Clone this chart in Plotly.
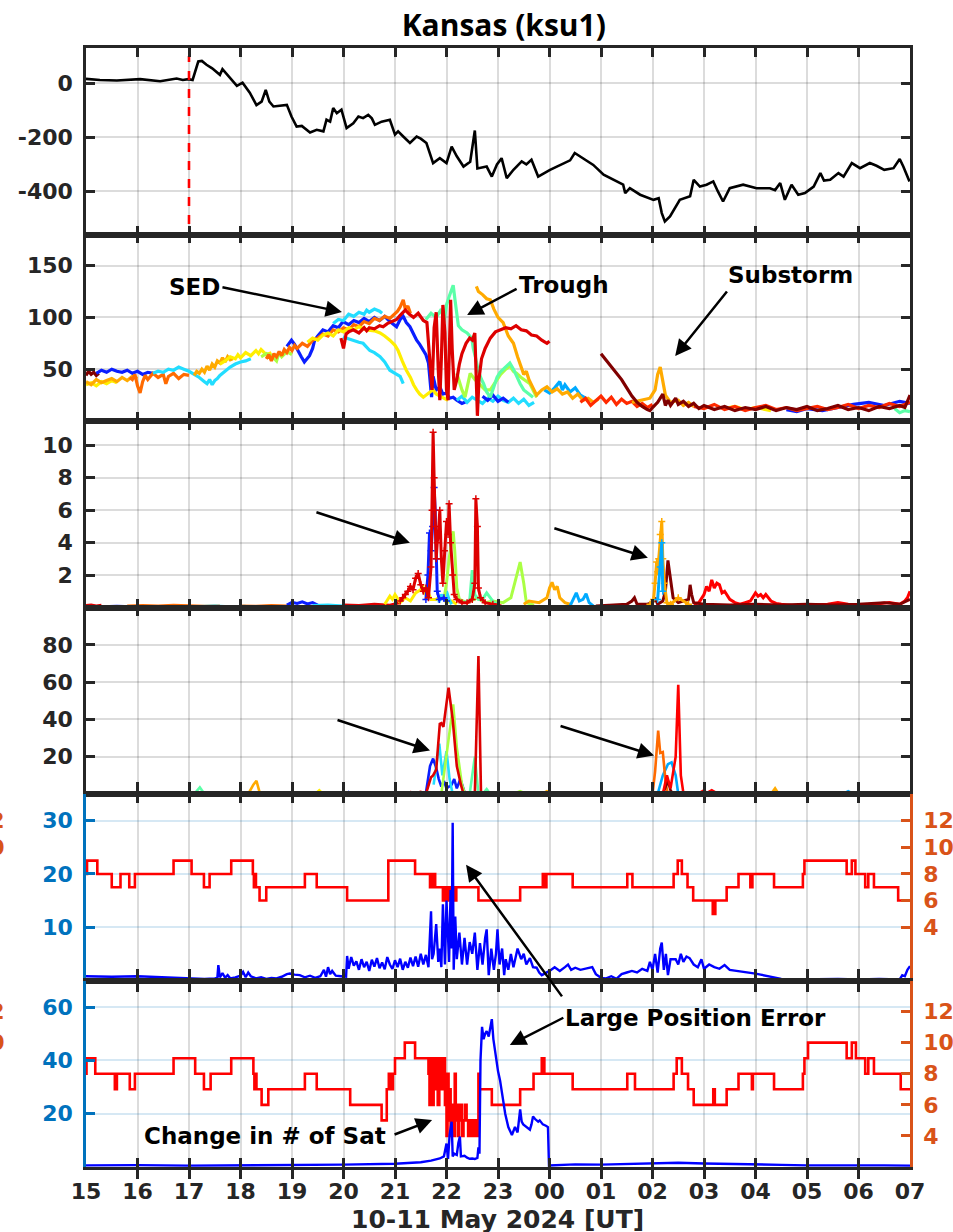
import plotly.graph_objects as go

# ---------------- shared time axis (UT hours counted from 10 May 00 UT) ----------------
hour_ticks = list(range(15, 32))
hour_labels = ["15", "16", "17", "18", "19", "20", "21", "22", "23",
               "00", "01", "02", "03", "04", "05", "06", "07"]

# ---------------- panel 1 : SYM-H ----------------
symh_ticks = [-400, -200, 0]
symh_tick_labels = ["-400", "-200", "0"]
onset_t = [17.0, 17.0]
onset_v = [-520, 100]
symh_t = [15.00, 15.27, 15.60, 16.05, 16.44, 16.76, 16.88, 16.99, 17.07, 17.12,
          17.18, 17.25, 17.34, 17.45, 17.60, 17.65, 17.80, 17.93, 18.04, 18.18,
          18.31, 18.41, 18.49, 18.56, 18.64, 18.80, 18.90, 18.99, 19.09, 19.19,
          19.35, 19.48, 19.61, 19.67, 19.74, 19.80, 19.87, 19.96, 20.06, 20.19,
          20.29, 20.38, 20.48, 20.55, 20.61, 20.74, 20.90, 21.00, 21.06, 21.16,
          21.29, 21.42, 21.50, 21.61, 21.74, 21.87, 22.00, 22.10, 22.20, 22.33,
          22.46, 22.55, 22.60, 22.78, 22.88, 22.98, 23.07, 23.17, 23.30, 23.46,
          23.55, 23.65, 23.78, 24.01, 24.27, 24.40, 24.49, 24.59, 24.85, 25.05,
          25.24, 25.43, 25.47, 25.56, 25.76, 26.02, 26.12, 26.18, 26.24, 26.34,
          26.53, 26.73, 26.80, 26.92, 27.05, 27.18, 27.27, 27.37, 27.50, 27.76,
          28.02, 28.28, 28.38, 28.48, 28.57, 28.70, 28.83, 28.96, 29.13, 29.26,
          29.33, 29.45, 29.61, 29.71, 29.87, 30.03, 30.22, 30.35, 30.50, 30.68,
          30.80, 30.87, 30.99]
symh_v = [16, 12, 10, 15, 7, 17, 12, 15, 12, 43,
          80, 82, 68, 55, 31, 52, 18, -10, 2, -35,
          -81, -68, -25, -68, -86, -82, -80, -123, -160, -158,
          -182, -172, -178, -135, -142, -92, -111, -98, -166, -148,
          -123, -129, -117, -130, -154, -142, -135, -190, -178, -197,
          -221, -197, -205, -221, -295, -277, -295, -234, -270, -308,
          -290, -175, -315, -308, -345, -300, -277, -351, -320, -289,
          -300, -283, -345, -320, -295, -285, -258, -271, -302, -338,
          -357, -375, -406, -388, -412, -431, -425, -480, -511, -492,
          -431, -418, -357, -382, -375, -363, -400, -437, -388, -375,
          -388, -388, -395, -369, -431, -375, -412, -406, -382, -332,
          -360, -357, -332, -345, -295, -314, -295, -305, -320, -314,
          -280, -308, -363]

# ---------------- panel 2 : TEC per satellite ----------------
tec_yel1_t = [15.0, 15.1, 15.2, 15.3, 15.4, 15.5, 15.6]
tec_yel1_v = [35, 37, 34, 38, 36, 39, 37]
tec_org1_t = [15.0, 15.1, 15.2, 15.3, 15.4, 15.5, 15.6, 15.7, 15.8, 15.9, 16.0]
tec_org1_v = [38, 35, 40, 37, 39, 41, 38, 42, 39, 43, 41]
tec_dred1_t = [15.0, 15.05, 15.1, 15.15, 15.2, 15.25]
tec_dred1_v = [44, 48, 45, 47, 44, 46]
tec_blue1_t = [15.2, 15.3, 15.4, 15.5, 15.6, 15.7, 15.8, 15.9, 16.0, 16.1, 16.2, 16.3]
tec_blue1_v = [46, 49, 47, 50, 48, 47, 49, 46, 48, 45, 47, 46]
tec_dorg1_t = [15.85, 15.9, 15.95, 16.0, 16.05, 16.1, 16.15, 16.2, 16.3, 16.4, 16.5, 16.55,
               16.6, 16.7, 16.8, 16.9, 17.0]
tec_dorg1_v = [42, 40, 45, 34, 27, 38, 44, 40, 46, 42, 45, 36, 43, 46, 41, 45, 44]
tec_cyan1_t = [16.3, 16.4, 16.5, 16.6, 16.7, 16.8, 16.9, 17.0, 17.1, 17.2, 17.3, 17.35, 17.4,
               17.45, 17.5, 17.55, 17.6, 17.7, 17.8, 17.9, 18.0, 18.1, 18.2]
tec_cyan1_v = [46, 48, 47, 50, 49, 52, 50, 48, 45, 42, 38, 36, 40, 35, 39, 41, 44, 48, 52, 55,
               57, 58, 60]
tec_org2_t = [17.1, 17.15, 17.2, 17.25, 17.3, 17.35, 17.4, 17.45, 17.5, 17.55, 17.6, 17.65,
              17.7, 17.75, 17.8, 17.85]
tec_org2_v = [44, 48, 46, 50, 47, 53, 49, 55, 52, 58, 56, 61, 57, 62, 59, 60]
tec_yel2_t = [17.6, 17.7, 17.8, 17.9, 17.95, 18.0, 18.1, 18.2, 18.3, 18.35, 18.4, 18.5, 18.6]
tec_yel2_v = [55, 58, 62, 60, 64, 61, 66, 63, 68, 65, 69, 64, 66]
tec_lime1_t = [18.4, 18.5, 18.6, 18.7, 18.75, 18.8, 18.9, 19.0]
tec_lime1_v = [62, 65, 63, 58, 66, 62, 67, 64]
tec_blue2_t = [18.9, 18.99, 19.05, 19.11, 19.18, 19.24, 19.3, 19.34, 19.4, 19.44,
               19.5, 19.6, 19.7, 19.8, 19.9, 19.99, 20.1, 20.2, 20.3, 20.4,
               20.5, 20.6, 20.7, 20.8, 20.9, 21.03, 21.1, 21.16, 21.22, 21.29,
               21.36, 21.42, 21.48, 21.55, 21.6, 21.65, 21.68, 21.71, 21.74, 21.8,
               21.87, 21.93, 22.0, 22.06, 22.13, 22.2, 22.3, 22.4]
tec_blue2_v = [72, 78, 74, 68, 62, 57, 60, 63, 70, 78,
               82, 88, 86, 92, 90, 96, 93, 97, 95, 99,
               96, 100, 97, 101, 96, 91, 98, 101, 95, 91,
               84, 78, 74, 68, 64, 56, 40, 23, 43, 30,
               33, 26, 27, 22, 23, 20, 17, 19]
tec_dorg2_t = [18.5, 18.55, 18.6, 18.65, 18.7, 18.75, 18.8, 18.85, 18.9, 18.95, 19.0, 19.05,
               19.1, 19.2, 19.3, 19.4, 19.5, 19.6, 19.7, 19.8, 19.9, 20.0, 20.1, 20.2, 20.3,
               20.4, 20.5, 20.6, 20.7, 20.8, 20.9, 21.0, 21.05, 21.1, 21.16, 21.2, 21.25, 21.3]
tec_dorg2_v = [60, 64, 58, 65, 62, 67, 63, 69, 66, 71, 68, 73, 70,
               75, 72, 78, 80, 84, 82, 88, 86, 90, 88, 93, 91, 96, 94, 99, 97, 101, 99, 104,
               106, 110, 117, 108, 111, 104]
tec_yel3_t = [19.3, 19.4, 19.5, 19.6, 19.7, 19.8, 19.9, 20.0, 20.1, 20.2, 20.3,
              20.45, 20.6, 20.71, 20.8, 20.9, 21.0, 21.06, 21.14, 21.22, 21.3,
              21.36, 21.42, 21.48, 21.55, 21.62, 21.68, 21.74, 21.8, 21.87, 21.94, 22.03]
tec_yel3_v = [76, 80, 78, 83, 85, 82, 88, 86, 90, 88, 91,
              88, 87, 85, 82, 78, 73, 68, 58, 49, 42,
              35, 30, 26, 23, 26, 28, 30, 26, 24, 22, 20]
tec_cyan2_t = [19.8, 19.9, 20.0, 20.1, 20.2, 20.3, 20.4, 20.45, 20.5, 20.6, 20.7, 20.75]
tec_cyan2_v = [94, 98, 97, 103, 101, 105, 103, 107, 105, 108, 106, 104]
tec_cyan3_t = [19.99, 20.1, 20.19, 20.3, 20.38, 20.45, 20.51, 20.6, 20.71, 20.8, 20.9, 21.0,
               21.1, 21.16]
tec_cyan3_v = [81, 79, 78, 76, 75, 71, 68, 66, 62, 57, 49, 46, 43, 36]
tec_cyan4_t = [22.2, 22.3, 22.4, 22.5, 22.6, 22.7, 22.8, 22.9, 23.0, 23.1, 23.2, 23.3, 23.4,
               23.5, 23.6, 23.7]
tec_cyan4_v = [20, 24, 18, 23, 20, 17, 22, 19, 24, 20, 18, 22, 17, 21, 15, 18]
tec_blue3_t = [22.7, 22.8, 22.9, 23.0, 23.1, 23.2]
tec_blue3_v = [24, 20, 25, 19, 22, 18]
tec_lime2_t = [22.2, 22.3, 22.36, 22.42, 22.46, 22.55, 22.65, 22.75, 22.85, 22.95,
               23.05, 23.15, 23.23, 23.3, 23.36, 23.45, 23.55, 23.62, 23.7, 23.75]
tec_lime2_v = [46, 30, 23, 35, 46, 40, 35, 30, 30, 38,
               45, 50, 53, 48, 46, 42, 38, 36, 28, 23]
tec_aqua1_t = [21.6, 21.7, 21.8, 21.9, 21.95, 22.0, 22.05, 22.1, 22.13, 22.17,
               22.23, 22.3, 22.4, 22.49, 22.52, 22.56, 22.62, 22.68, 22.72, 22.78,
               22.85, 22.92, 22.98, 23.04, 23.1, 23.17, 23.23, 23.3, 23.37, 23.43,
               23.5, 23.6, 23.68]
tec_aqua1_v = [98, 104, 100, 108, 95, 112, 120, 127, 131, 115,
               92, 88, 85, 80, 70, 62, 48, 40, 36, 28,
               23, 33, 42, 47, 50, 54, 56, 50, 42, 36,
               30, 26, 23]
tec_lblue1_t = [23.9, 24.0, 24.1, 24.2, 24.25, 24.3, 24.4, 24.5, 24.6, 24.7]
tec_lblue1_v = [30, 27, 32, 38, 30, 35, 28, 32, 25, 22]
tec_org3_t = [22.58, 22.62, 22.7, 22.78, 22.85, 22.92, 23.0, 23.1, 23.2, 23.3,
              23.38, 23.45, 23.5, 23.55, 23.6, 23.68, 23.75, 23.85, 23.95, 24.05,
              24.15, 24.25, 24.35, 24.45, 24.55, 24.65, 24.75, 24.85, 24.95]
tec_org3_v = [130, 125, 122, 118, 117, 108, 100, 95, 82, 75,
              62, 52, 45, 48, 40, 32, 25, 30, 33, 28,
              31, 26, 28, 22, 26, 20, 22, 18, 21]
tec_rorg_t = [24.6, 24.7, 24.8, 24.9, 25.0, 25.1, 25.2, 25.3, 25.4, 25.5, 25.6, 25.7, 25.8,
              25.9, 26.0]
tec_rorg_v = [18, 22, 15, 20, 24, 18, 23, 16, 21, 17, 19, 14, 17, 13, 16]
tec_red1_t = [19.95, 20.0, 20.05, 20.1, 20.19, 20.3, 20.4, 20.45, 20.5, 20.6,
              20.7, 20.77, 20.85, 20.95, 21.03, 21.1, 21.2, 21.28, 21.36, 21.45,
              21.55, 21.62, 21.68, 21.72, 21.76, 21.8, 21.84, 21.87, 21.9, 21.93,
              21.97, 22.0, 22.03, 22.06, 22.08, 22.11, 22.15, 22.2, 22.25, 22.3,
              22.38, 22.45, 22.5, 22.55, 22.58, 22.6, 22.63, 22.68, 22.75, 22.85,
              22.95, 23.05, 23.15, 23.25, 23.35, 23.45, 23.55, 23.65, 23.75, 23.85,
              23.95, 24.0]
tec_red1_v = [80, 70, 84, 86, 88, 85, 90, 87, 90, 89,
              92, 91, 94, 96, 98, 102, 107, 103, 100, 104,
              97, 95, 60, 30, 90, 105, 50, 20, 60, 112,
              85, 30, 20, 80, 117, 70, 30, 40, 55, 65,
              75, 80, 78, 85, 30, 5, 40, 60, 70, 80,
              86, 88, 90, 89, 92, 88, 87, 83, 82, 78,
              75, 77]
tec_blue4_t = [28.6, 28.8, 29.0, 29.3, 29.6, 29.9, 30.2, 30.5, 30.8, 31.0]
tec_blue4_v = [11, 9, 12, 10, 13, 16, 18, 15, 19, 17]
tec_yel4_t = [27.4, 27.6, 27.8, 28.0, 28.3]
tec_yel4_v = [12, 14, 11, 13, 10]
tec_red2_t = [26.8, 27.0, 27.2, 27.4, 27.6, 27.8, 28.0, 28.2, 28.4, 28.6, 28.8, 29.0, 29.2,
              29.4, 29.6, 29.8, 30.0, 30.2, 30.4, 30.6, 30.8, 31.0]
tec_red2_v = [14, 12, 16, 11, 14, 10, 13, 15, 11, 13, 10, 12, 14, 11, 13, 16, 12, 15, 13, 17,
              14, 18]
tec_lime3_t = [30.7, 30.8, 30.9, 31.0]
tec_lime3_v = [12, 8, 10, 9]
tec_org4_t = [25.6, 25.8, 25.95, 26.05, 26.1, 26.15, 26.2, 26.25, 26.35, 26.5, 26.6, 26.7, 26.8]
tec_org4_v = [18, 20, 22, 30, 45, 52, 40, 25, 18, 20, 15, 18, 14]
tec_dred2_t = [25.0, 25.05, 25.1, 25.2, 25.3, 25.4, 25.5, 25.6, 25.7, 25.8,
               25.9, 25.95, 26.0, 26.1, 26.2, 26.25, 26.3, 26.35, 26.45, 26.5,
               26.6, 26.7, 26.8, 26.9, 27.0, 27.2, 27.4, 27.6, 27.8, 28.0,
               28.2, 28.4, 28.6, 28.8, 29.0, 29.2, 29.4, 29.6, 29.8, 30.0,
               30.2, 30.4, 30.6, 30.8, 30.9, 31.0]
tec_dred2_v = [65, 62, 58, 52, 47, 40, 32, 24, 18, 14,
               11, 10, 13, 18, 26, 15, 20, 15, 22, 16,
               19, 14, 17, 12, 15, 11, 14, 10, 13, 11,
               14, 10, 13, 11, 14, 10, 12, 15, 11, 13,
               10, 14, 12, 15, 13, 25]

# ---------------- panel 3 : ROTI per satellite ----------------
rot_red1_t = [15.0, 15.1, 15.2, 15.3]
rot_red1_v = [0.12, 0.16, 0.10, 0.14]
rot_blue1_t = [15.3, 15.6, 15.9, 16.2]
rot_blue1_v = [0.05, 0.08, 0.04, 0.06]
rot_org1_t = [15.8, 16.1, 16.4, 16.7, 17.0, 17.3, 17.6]
rot_org1_v = [0.10, 0.13, 0.09, 0.14, 0.11, 0.08, 0.10]
rot_cyan1_t = [17.2, 17.5, 17.8, 18.1]
rot_cyan1_v = [0.06, 0.09, 0.05, 0.07]
rot_org2_t = [18.0, 18.3, 18.6, 18.9]
rot_org2_v = [0.10, 0.08, 0.12, 0.10]
rot_blue2_t = [18.9, 19.0, 19.1, 19.2, 19.3, 19.4, 19.5]
rot_blue2_v = [0.15, 0.32, 0.25, 0.35, 0.22, 0.30, 0.15]
rot_cyan2_t = [19.4, 19.7, 20.0]
rot_cyan2_v = [0.12, 0.15, 0.10]
rot_red2_t = [20.0, 20.3, 20.6, 20.9, 21.1]
rot_red2_v = [0.15, 0.12, 0.20, 0.14, 0.30]
rot_yel_t = [20.8, 20.9, 20.95, 21.0, 21.1, 21.2, 21.3, 21.4, 21.5, 21.53, 21.6, 21.65, 21.7,
             21.8, 21.9, 22.0, 22.1, 22.2]
rot_yel_v = [0.2, 0.7, 0.5, 0.8, 0.3, 0.6, 0.4, 0.9, 1.1, 1.4, 0.8, 0.9, 0.5, 0.5, 0.7, 0.3,
             0.4, 0.2]
rot_cyan3_t = [21.85, 21.9, 21.95, 22.0, 22.05, 22.1]
rot_cyan3_v = [0.3, 0.8, 0.5, 1.0, 0.5, 0.2]
rot_lime_t = [21.95, 22.0, 22.05, 22.1, 22.13, 22.16, 22.2, 22.25, 22.4, 22.6, 22.75, 22.9,
              23.1, 23.25, 23.35, 23.43, 23.5, 23.55, 23.7]
rot_lime_v = [0.5, 1.5, 3.0, 4.3, 4.7, 3.5, 1.2, 0.5, 0.3, 0.6, 0.3, 0.4, 0.3, 0.6, 1.8, 2.8,
              1.5, 0.3, 0.15]
rot_aqua_t = [22.3, 22.45, 22.5, 22.55, 22.62, 22.7, 22.78, 22.85, 22.92, 23.0]
rot_aqua_v = [0.3, 0.4, 2.3, 0.8, 0.5, 0.5, 0.9, 0.6, 0.3, 0.2]
rot_blue3_t = [21.6, 21.64, 21.67, 21.7, 21.73, 21.76, 21.78, 21.8, 21.82, 21.86, 21.95, 22.0]
rot_blue3_v = [0.5, 2.0, 4.6, 3.5, 5.0, 7.4, 6.0, 3.0, 1.0, 0.5, 0.6, 0.4]
rot_red3_t = [21.1, 21.15, 21.2, 21.25, 21.3, 21.35, 21.4, 21.45, 21.5, 21.55,
              21.6, 21.65, 21.7, 21.72, 21.74, 21.76, 21.78, 21.8, 21.82, 21.84,
              21.87, 21.9, 21.93, 21.96, 22.0, 22.03, 22.05, 22.08, 22.12, 22.15,
              22.2, 22.3, 22.4, 22.5, 22.55, 22.57, 22.6, 22.62, 22.66, 22.75,
              22.9, 23.0]
rot_red3_v = [0.4, 0.6, 0.8, 1.0, 1.3, 1.1, 1.8, 2.1, 1.4, 1.0,
              1.2, 0.6, 2.5, 6.0, 10.8, 8.0, 5.0, 3.0, 4.0, 4.5,
              6.0, 3.0, 1.5, 3.5, 5.3, 4.5, 6.4, 4.0, 2.0, 0.8,
              0.5, 0.3, 0.3, 0.5, 1.5, 6.7, 5.0, 1.2, 0.6, 0.3,
              0.2, 0.15]
rot_org3_t = [23.5, 23.6, 23.8, 23.95, 24.0, 24.05, 24.1, 24.15, 24.2, 24.3, 24.4]
rot_org3_v = [0.2, 0.4, 0.3, 0.6, 1.2, 1.55, 1.1, 1.3, 0.6, 0.3, 0.2]
rot_lblue_t = [24.4, 24.48, 24.52, 24.58, 24.65, 24.71, 24.77, 24.85]
rot_lblue_v = [0.1, 0.6, 0.9, 0.4, 0.5, 0.85, 0.3, 0.1]
rot_red4_t = [26.8, 26.9, 27.0, 27.05, 27.1, 27.15, 27.2, 27.25, 27.3, 27.35,
              27.4, 27.5, 27.6, 27.7, 27.8, 27.9, 28.0, 28.05, 28.1, 28.15,
              28.2, 28.3, 28.4, 28.5, 28.8, 29.1, 29.4, 29.6, 29.8, 30.0,
              30.3, 30.6, 30.8, 30.9, 30.95, 31.0]
rot_red4_v = [0.2, 0.3, 0.8, 1.3, 1.0, 1.7, 1.2, 1.5, 1.4, 0.9,
              1.0, 0.5, 0.3, 0.2, 0.3, 0.4, 0.9, 0.7, 0.8, 0.6,
              0.8, 0.4, 0.25, 0.2, 0.1, 0.15, 0.2, 0.3, 0.2, 0.15,
              0.2, 0.3, 0.2, 0.4, 0.6, 1.0]
rot_dred_t = [24.9, 25.2, 25.5, 25.6, 25.65, 25.7, 25.9, 26.0, 26.05, 26.1,
              26.2, 26.25, 26.3, 26.33, 26.36, 26.4, 26.5, 26.6, 26.7, 26.73,
              26.76, 26.8, 27.0, 27.5, 28.0, 28.5, 29.0, 29.5, 30.0, 30.5,
              30.8, 31.0]
rot_dred_v = [0.1, 0.15, 0.2, 0.4, 0.6, 0.2, 0.2, 0.3, 0.6, 0.2,
              0.4, 1.0, 2.9, 2.2, 1.5, 0.6, 0.3, 0.4, 0.5, 1.4,
              0.8, 0.3, 0.2, 0.15, 0.2, 0.15, 0.2, 0.15, 0.2, 0.3,
              0.2, 0.5]
rot_org4_t = [25.95, 26.02, 26.05, 26.08, 26.1, 26.12, 26.15, 26.18, 26.2, 26.23, 26.28, 26.35,
              26.5, 26.7]
rot_org4_v = [0.2, 0.5, 1.5, 2.8, 2.2, 3.0, 4.5, 5.3, 3.0, 1.5, 0.3, 0.2, 0.6, 0.2]
rot_cyan4_t = [26.1, 26.15, 26.18, 26.2]
rot_cyan4_v = [0.5, 2.5, 4.0, 1.0]

# ---------------- panel 4 : per-satellite index ----------------
p4_aqua1_t = [17.1, 17.21, 17.3]
p4_aqua1_v = [0, 3.6, 0]
p4_org1_t = [18.15, 18.25, 18.31, 18.38]
p4_org1_v = [0, 5, 7, 0]
p4_yel_t = [19.45, 19.53, 19.6]
p4_yel_v = [0, 2, 0]
p4_blue1_t = [20.05, 20.1, 20.15]
p4_blue1_v = [0, 1, 0]
p4_cyan1_t = [20.9, 20.97, 21.05]
p4_cyan1_v = [0, 0.7, 0]
p4_blue2_t = [21.6, 21.68, 21.74, 21.8, 21.85, 21.9, 21.95, 22.0, 22.1, 22.15, 22.2, 22.27,
              22.35, 22.4]
p4_blue2_v = [0.5, 15, 19, 14, 8, 4, 7, 3, 5, 8, 3, 8, 1, 0]
p4_cyan2_t = [21.75, 21.86, 21.92, 22.0, 22.06, 22.12]
p4_cyan2_v = [5, 27, 10, 23, 8, 0]
p4_lime1_t = [21.9, 22.0, 22.13, 22.2, 22.3, 22.36]
p4_lime1_v = [0, 20, 48, 25, 5, 0]
p4_aqua2_t = [22.45, 22.55, 22.62, 22.7, 22.78, 22.85]
p4_aqua2_v = [0, 20, 0, 0, 2.6, 0]
p4_red1_t = [21.2, 21.3, 21.4, 21.5, 21.6, 21.65, 21.7, 21.74, 21.8, 21.87,
             21.9, 21.94, 22.04, 22.12, 22.2, 22.28, 22.33, 22.55, 22.62, 22.67]
p4_red1_v = [0, 1, 0.5, 1.2, 0, 5, 9, 10, 13, 37.6,
             38, 36, 57, 40, 15, 5, 0, 0, 74, 0]
p4_lime2_t = [23.3, 23.43, 23.55]
p4_lime2_v = [0, 1.5, 0]
p4_org2_t = [23.85, 23.95, 24.05]
p4_org2_v = [0, 1.5, 0]
p4_lblue1_t = [24.45, 24.52, 24.6]
p4_lblue1_v = [0, 0.8, 0]
p4_lblue2_t = [26.1, 26.2, 26.3, 26.37, 26.45, 26.5]
p4_lblue2_v = [0, 10, 16, 17, 10, 0]
p4_org3_t = [26.0, 26.05, 26.11, 26.15, 26.2, 26.26, 26.3]
p4_org3_v = [0, 12, 34, 22, 22.5, 5, 0]
p4_dred_t = [26.2, 26.3, 26.35, 26.4]
p4_dred_v = [0, 7, 2, 0]
p4_red2_t = [26.2, 26.28, 26.35, 26.45, 26.5, 26.55, 26.6, 26.9, 27.0, 27.05, 27.15, 27.25, 27.4]
p4_red2_v = [0, 10, 3, 20, 58.6, 10, 0.5, 0.5, 2, 0.5, 2, 0.5, 0]
p4_org4_t = [28.3, 28.38, 28.45]
p4_org4_v = [0, 3, 0]
p4_lblue3_t = [29.7, 29.8, 29.9]
p4_lblue3_v = [0, 1.5, 0]

# ---------------- panel 5 : error (left) and number of satellites (right) ----------------
pe5_t = [15.0, 15.5, 16.0, 16.5, 17.0, 17.3, 17.5, 17.55, 17.57, 17.6,
         17.65, 17.7, 17.75, 17.8, 17.9, 18.0, 18.05, 18.1, 18.15, 18.2,
         18.3, 18.4, 18.5, 18.6, 18.7, 18.8, 18.9, 18.96, 19.05, 19.15,
         19.25, 19.35, 19.45, 19.55, 19.62, 19.66, 19.7, 19.74, 19.78, 19.85,
         19.95, 20.05, 20.07, 20.1, 20.15, 20.2, 20.25, 20.3, 20.35, 20.4,
         20.45, 20.5, 20.55, 20.6, 20.65, 20.7, 20.75, 20.8, 20.85, 20.9,
         20.95, 21.0, 21.05, 21.1, 21.15, 21.2, 21.25, 21.3, 21.35, 21.4,
         21.45, 21.5, 21.55, 21.6, 21.65, 21.7, 21.72, 21.75, 21.8, 21.84,
         21.87, 21.9, 21.93, 21.97, 22.0, 22.03, 22.05, 22.08, 22.1, 22.12,
         22.14, 22.17, 22.2, 22.25, 22.3, 22.35, 22.4, 22.45, 22.5, 22.55,
         22.6, 22.65, 22.7, 22.75, 22.78, 22.82, 22.87, 22.92, 22.96, 22.99,
         23.03, 23.08, 23.12, 23.15, 23.2, 23.25, 23.3, 23.38, 23.45, 23.5,
         23.55, 23.62, 23.68, 23.75, 23.8, 23.85, 24.0, 24.1, 24.2, 24.3,
         24.36, 24.42, 24.5, 24.6, 24.7, 24.83, 24.9, 25.0, 25.1, 25.2,
         25.3, 25.4, 25.5, 25.6, 25.7, 25.8, 25.9, 25.95, 26.0, 26.05,
         26.1, 26.15, 26.18, 26.22, 26.26, 26.3, 26.35, 26.45, 26.5, 26.55,
         26.6, 26.66, 26.72, 26.8, 26.88, 26.95, 27.0, 27.1, 27.2, 27.3,
         27.4, 27.5, 27.63, 27.8, 28.0, 28.1, 28.28, 28.5, 28.8, 29.2,
         29.6, 30.0, 30.4, 30.8, 30.85, 30.9, 30.95, 31.0]
pe5_v = [0.8, 0.7, 0.8, 0.6, 0.5, 0.3, 0.4, 0.5, 2.9, 0.6,
         1.4, 0.5, 1.0, 0.4, 0.6, 0.9, 1.6, 0.6, 1.5, 0.8,
         0.4, 0.6, 0.3, 0.5, 0.4, 0.7, 1.2, 1.3, 1.1, 1.0,
         0.6, 0.9, 0.5, 0.8, 2.0, 0.7, 2.5, 1.2, 1.8, 0.9,
         0.8, 0.7, 4.6, 2.2, 4.4, 2.8, 3.6, 2.0, 4.0, 2.5,
         3.5, 1.8, 3.9, 2.6, 4.2, 2.3, 3.4, 2.1, 4.4, 3.0,
         2.2, 3.8, 2.5, 4.1, 2.0, 3.5, 2.4, 4.3, 2.7, 4.5,
         2.6, 5.0, 3.0, 4.8, 2.5, 13.0, 4.0, 5.0, 10.6, 3.5,
         6.0, 2.5, 14.3, 3.0, 15.0, 8.0, 3.5, 17.0, 6.0, 29.6,
         2.0, 12.0, 4.0, 9.0, 3.0, 8.0, 3.0, 7.2, 5.0, 9.0,
         2.0, 7.0, 3.0, 8.0, 9.6, 1.0, 6.0, 2.0, 5.0, 9.6,
         3.0, 6.0, 1.0, 4.0, 2.0, 5.0, 2.5, 6.0, 4.0, 5.0,
         3.0, 4.2, 2.5, 2.4, 1.5, 1.0, 1.8, 2.5, 1.8, 2.5,
         3.0, 2.0, 2.4, 2.0, 2.2, 2.5, 1.2, 0.5, 0.4, 0.8,
         0.3, 1.2, 1.5, 1.8, 1.5, 2.2, 1.8, 3.5, 2.0, 5.0,
         1.5, 6.0, 7.1, 2.0, 5.0, 1.0, 4.0, 4.0, 3.0, 5.0,
         3.5, 4.5, 4.2, 3.0, 2.5, 4.0, 2.2, 3.0, 2.5, 2.2,
         2.9, 2.0, 1.8, 1.6, 1.3, 1.1, 0.8, 0.3, 0.2, 0.3,
         0.3, 0.2, 0.3, 0.2, 1.0, 0.8, 2.0, 2.7]
ns5_t = [15.0, 15.02, 15.22, 15.5, 15.67, 15.84, 15.95, 16.7, 17.05, 17.29,
         17.4, 17.82, 18.24, 18.26, 18.28, 18.3, 18.37, 18.5, 19.25, 19.48,
         20.07, 20.87, 21.39, 21.68, 21.7, 21.72, 21.74, 21.78, 21.93, 21.95,
         21.96, 21.98, 21.99, 22.01, 22.02, 22.04, 22.05, 22.07, 22.08, 22.1,
         22.11, 22.13, 22.14, 22.16, 22.17, 22.19, 22.62, 23.43, 23.87, 23.9,
         23.94, 24.45, 25.51, 25.61, 26.41, 26.49, 26.57, 26.68, 26.79, 27.17,
         27.22, 27.44, 27.67, 27.9, 27.94, 28.36, 28.92, 28.95, 29.77, 29.87,
         29.94, 30.13, 30.19, 30.3, 30.77, 31.0]
ns5_v = [8, 9, 8, 7, 8, 7, 8, 9, 8, 7,
         8, 9, 8, 7, 8, 7, 6, 7, 8, 7,
         6, 9, 8, 7, 8, 7, 8, 7, 6, 7,
         6, 7, 6, 7, 6, 7, 6, 7, 6, 7,
         6, 7, 6, 7, 6, 7, 6, 7, 8, 7,
         8, 7, 8, 7, 8, 9, 8, 7, 6, 5,
         6, 7, 8, 7, 8, 7, 8, 9, 8, 9,
         8, 7, 8, 7, 6, 6]

# ---------------- panel 6 : error (left) and number of satellites (right) ----------------
pe6_t = [15.0, 16.0, 17.0, 18.0, 19.0, 20.0, 21.0, 21.5, 21.7, 21.87,
         21.95, 22.0, 22.03, 22.06, 22.1, 22.12, 22.15, 22.2, 22.23, 22.26,
         22.28, 22.35, 22.4, 22.45, 22.5, 22.55, 22.6, 22.62, 22.64, 22.66,
         22.69, 22.72, 22.75, 22.78, 22.82, 22.85, 22.88, 22.91, 22.95, 23.0,
         23.04, 23.1, 23.14, 23.2, 23.27, 23.33, 23.38, 23.43, 23.46, 23.49,
         23.55, 23.62, 23.65, 23.68, 23.72, 23.78, 23.81, 23.87, 23.93, 23.97,
         23.99, 24.5, 25.0, 25.5, 26.0, 26.5, 27.0, 27.5, 28.0, 28.5,
         29.0, 29.5, 30.0, 30.5, 31.0]
pe6_v = [0.6, 0.7, 0.5, 0.6, 0.7, 0.9, 1.2, 1.8, 2.4, 3.2,
         4.0, 8.8, 3.0, 12.0, 17.0, 4.0, 5.0, 4.5, 9.0, 11.4,
         4.0, 4.2, 3.5, 3.1, 3.2, 3.0, 3.4, 7.4, 5.0, 40.0,
         52.6, 48.0, 50.0, 51.0, 49.0, 53.0, 55.5, 48.0, 42.0, 36.0,
         32.5, 24.0, 20.0, 15.0, 12.0, 15.0, 13.0, 21.6, 17.0, 16.0,
         15.0, 14.0, 16.0, 19.0, 18.0, 17.0, 17.5, 16.0, 15.5, 15.0,
         0.6, 1.0, 0.9, 1.2, 1.4, 1.6, 1.3, 1.2, 1.0, 0.8,
         0.6, 0.7, 0.6, 0.6, 0.5]
ns6_t = [15.0, 15.01, 15.18, 15.56, 15.6, 15.85, 15.95, 16.7, 17.12, 17.29,
         17.42, 17.82, 18.25, 18.27, 18.29, 18.31, 18.41, 18.54, 19.25, 19.48,
         20.13, 20.74, 20.84, 20.88, 20.92, 20.96, 21.0, 21.19, 21.39, 21.65,
         21.67, 21.7, 21.72, 21.75, 21.78, 21.8, 21.83, 21.86, 21.9, 21.95,
         21.97, 22.0, 22.02, 22.04, 22.06, 22.08, 22.1, 22.12, 22.14, 22.16,
         22.18, 22.2, 22.22, 22.24, 22.26, 22.28, 22.3, 22.33, 22.36, 22.39,
         22.42, 22.46, 22.5, 22.54, 22.58, 22.62, 22.64, 22.88, 23.43, 23.69,
         23.85, 23.9, 24.45, 25.51, 25.66, 26.41, 26.47, 26.57, 26.69, 26.8,
         27.18, 27.21, 27.44, 27.67, 27.93, 27.95, 28.36, 28.92, 28.95, 29.02,
         29.77, 29.87, 29.95, 30.13, 30.19, 30.3, 30.82, 31.0]
ns6_v = [8, 9, 8, 7, 8, 7, 8, 9, 8, 7,
         8, 9, 8, 7, 8, 7, 6, 7, 8, 7,
         6, 5, 7, 8, 7, 8, 9, 10, 9, 8,
         6, 9, 6, 9, 7, 9, 6, 9, 7, 9,
         6, 4, 8, 5, 7, 4, 6, 5, 4, 8,
         5, 6, 4, 6, 5, 6, 4, 5, 6, 5,
         4, 5, 4, 5, 4, 8, 7, 6, 7, 8,
         9, 8, 7, 8, 7, 8, 9, 8, 7, 6,
         7, 6, 7, 8, 7, 8, 7, 8, 9, 10,
         9, 10, 9, 8, 9, 8, 7, 7]

# ---------------- styling ----------------
C_BLUE = "#0A1EFF"
C_LBLUE = "#00AAFF"
C_CYAN = "#22DDFF"
C_AQUA = "#5CFFA8"
C_LIME = "#AAFF44"
C_YEL = "#FFEE00"
C_ORG = "#FFAA00"
C_DORG = "#FF6A00"
C_RORG = "#FF2A00"
C_RED = "#DD0000"
C_DRED = "#800000"
AX = "#262626"
GRID = "rgba(38,38,38,0.16)"
BGRID = "rgba(0,114,189,0.16)"
M_BLUE = "#0072BD"
M_ORG = "#D95319"
FONT = "DejaVu Sans"

fig = go.Figure()


def add(t, v, color, xa, ya, width=3.0, shape="linear", dash=None, markers=False, name=""):
    if len(t) != len(v):
        raise ValueError(f"length mismatch in {name}: {len(t)} vs {len(v)}")
    kw = dict(x=t, y=v, xaxis=xa, yaxis=ya, showlegend=False, hoverinfo="skip",
              line=dict(color=color, width=width, shape=shape, dash=dash))
    if markers:
        kw["mode"] = "lines+markers"
        kw["marker"] = dict(symbol="cross-thin", size=5, color=color, line=dict(color=color, width=1.5))
    else:
        kw["mode"] = "lines"
    fig.add_trace(go.Scatter(**kw))


# panel 1
add(symh_t, symh_v, "black", "x", "y", 2.6, name="symh")
add(onset_t, onset_v, "#FF0000", "x", "y", 2.6, dash="dash", name="onset")

# panel 2
p2 = [(tec_yel1_t, tec_yel1_v, C_YEL), (tec_org1_t, tec_org1_v, C_ORG),
      (tec_dred1_t, tec_dred1_v, C_DRED), (tec_blue1_t, tec_blue1_v, C_BLUE),
      (tec_dorg1_t, tec_dorg1_v, C_DORG), (tec_cyan1_t, tec_cyan1_v, C_CYAN),
      (tec_org2_t, tec_org2_v, C_ORG), (tec_yel2_t, tec_yel2_v, C_YEL),
      (tec_lime1_t, tec_lime1_v, C_LIME), (tec_blue2_t, tec_blue2_v, C_BLUE),
      (tec_dorg2_t, tec_dorg2_v, C_DORG), (tec_yel3_t, tec_yel3_v, C_YEL),
      (tec_cyan2_t, tec_cyan2_v, C_CYAN), (tec_cyan3_t, tec_cyan3_v, C_CYAN),
      (tec_cyan4_t, tec_cyan4_v, C_CYAN), (tec_blue3_t, tec_blue3_v, C_BLUE),
      (tec_lime2_t, tec_lime2_v, C_LIME), (tec_aqua1_t, tec_aqua1_v, C_AQUA),
      (tec_lblue1_t, tec_lblue1_v, C_LBLUE), (tec_org3_t, tec_org3_v, C_ORG),
      (tec_rorg_t, tec_rorg_v, C_RORG), (tec_red1_t, tec_red1_v, C_RED),
      (tec_blue4_t, tec_blue4_v, C_BLUE), (tec_yel4_t, tec_yel4_v, C_YEL),
      (tec_red2_t, tec_red2_v, C_RORG), (tec_lime3_t, tec_lime3_v, C_AQUA),
      (tec_org4_t, tec_org4_v, C_ORG), (tec_dred2_t, tec_dred2_v, C_DRED)]
for i, (t, v, c) in enumerate(p2):
    add(t, v, c, "x2", "y2", 3.2, name=f"tec{i}")

# panel 3
p3 = [(rot_red1_t, rot_red1_v, C_RED, False), (rot_blue1_t, rot_blue1_v, C_BLUE, False),
      (rot_org1_t, rot_org1_v, C_DORG, False), (rot_cyan1_t, rot_cyan1_v, C_CYAN, False),
      (rot_org2_t, rot_org2_v, C_DORG, False), (rot_blue2_t, rot_blue2_v, C_BLUE, False),
      (rot_cyan2_t, rot_cyan2_v, C_CYAN, False), (rot_red2_t, rot_red2_v, C_RED, False),
      (rot_yel_t, rot_yel_v, C_YEL, False), (rot_cyan3_t, rot_cyan3_v, C_CYAN, False),
      (rot_lime_t, rot_lime_v, C_LIME, False), (rot_aqua_t, rot_aqua_v, C_AQUA, False),
      (rot_blue3_t, rot_blue3_v, C_BLUE, True), (rot_red3_t, rot_red3_v, C_RED, True),
      (rot_org3_t, rot_org3_v, C_ORG, False), (rot_lblue_t, rot_lblue_v, C_LBLUE, False),
      (rot_red4_t, rot_red4_v, "#FF0000", False), (rot_dred_t, rot_dred_v, C_DRED, False),
      (rot_org4_t, rot_org4_v, C_ORG, True), (rot_cyan4_t, rot_cyan4_v, C_LBLUE, True)]
for i, (t, v, c, m) in enumerate(p3):
    add(t, v, c, "x3", "y3", 3.0, markers=m, name=f"rot{i}")

# panel 4
p4 = [(p4_aqua1_t, p4_aqua1_v, C_AQUA), (p4_org1_t, p4_org1_v, C_ORG),
      (p4_yel_t, p4_yel_v, C_YEL), (p4_blue1_t, p4_blue1_v, C_BLUE),
      (p4_cyan1_t, p4_cyan1_v, C_CYAN), (p4_blue2_t, p4_blue2_v, C_BLUE),
      (p4_cyan2_t, p4_cyan2_v, C_CYAN), (p4_lime1_t, p4_lime1_v, C_LIME),
      (p4_aqua2_t, p4_aqua2_v, C_AQUA), (p4_red1_t, p4_red1_v, C_RED),
      (p4_lime2_t, p4_lime2_v, C_LIME), (p4_org2_t, p4_org2_v, C_ORG),
      (p4_lblue1_t, p4_lblue1_v, C_LBLUE), (p4_lblue2_t, p4_lblue2_v, C_LBLUE),
      (p4_org3_t, p4_org3_v, C_DORG), (p4_dred_t, p4_dred_v, C_DRED),
      (p4_red2_t, p4_red2_v, "#FF0000"), (p4_org4_t, p4_org4_v, C_ORG),
      (p4_lblue3_t, p4_lblue3_v, C_LBLUE)]
for i, (t, v, c) in enumerate(p4):
    add(t, v, c, "x4", "y4", 2.6, name=f"p4_{i}")

# panels 5 and 6
add(ns5_t, ns5_v, "#FF0000", "x5", "y5", 2.6, shape="hv", name="ns5")
add(pe5_t, pe5_v, "#0000FF", "x5", "y7", 2.4, name="pe5")
add(ns6_t, ns6_v, "#FF0000", "x6", "y6", 2.6, shape="hv", name="ns6")
add(pe6_t, pe6_v, "#0000FF", "x6", "y8", 2.4, name="pe6")

# ---------------- axes ----------------
tickfont = dict(family=FONT, size=22, color=AX, weight="bold")
layout = dict(width=953, height=1232, margin=dict(l=86, r=43, t=48, b=65, autoexpand=False),
              paper_bgcolor="white", plot_bgcolor="white", showlegend=False)


def dom(i):
    return [1 - i / 6, 1 - (i - 1) / 6]


for i in range(1, 7):
    xk = "xaxis" if i == 1 else f"xaxis{i}"
    yid = "y" if i == 1 else f"y{i}"
    ax = dict(domain=[0, 1], anchor=yid, range=[15, 31], tickmode="array",
              tickvals=hour_ticks, ticktext=hour_labels, showticklabels=(i == 6),
              ticks="inside", ticklen=9, tickwidth=2.5, tickcolor=AX,
              showline=True, linewidth=2.5, linecolor=AX, mirror="allticks",
              showgrid=True, gridcolor=GRID, gridwidth=2, zeroline=False,
              tickfont=tickfont, ticklabelstandoff=3, automargin=False)
    if i > 1:
        ax["matches"] = "x"
    layout[xk] = ax

ycommon = dict(ticks="inside", ticklen=9, tickwidth=2.5, tickcolor=AX, showline=True,
               linewidth=2.5, linecolor=AX, mirror="allticks", showgrid=True,
               gridcolor=GRID, gridwidth=2, zeroline=False, tickfont=tickfont,
               ticklabelstandoff=6, tickmode="array", automargin=False)
layout["yaxis"] = dict(domain=dom(1), anchor="x", range=[-559, 130], tickvals=symh_ticks,
                       ticktext=symh_tick_labels, **ycommon)
layout["yaxis2"] = dict(domain=dom(2), anchor="x2", range=[0, 180], tickvals=[50, 100, 150], **ycommon)
layout["yaxis3"] = dict(domain=dom(3), anchor="x3", range=[0, 11.5], tickvals=[2, 4, 6, 8, 10], **ycommon)
layout["yaxis4"] = dict(domain=dom(4), anchor="x4", range=[0, 100], tickvals=[20, 40, 60, 80], **ycommon)

rcommon = dict(side="right", ticks="inside", ticklen=9, tickwidth=2.5, tickcolor=M_ORG,
               showline=True, linewidth=2.5, linecolor=M_ORG, showgrid=False, zeroline=False,
               tickfont=dict(family=FONT, size=22, color=M_ORG, weight="bold"),
               ticklabelstandoff=6, tickmode="array", automargin=False)
lcommon = dict(side="left", ticks="inside", ticklen=9, tickwidth=2.5, tickcolor=M_BLUE,
               showline=True, linewidth=2.5, linecolor=M_BLUE, showgrid=True, gridcolor=BGRID,
               gridwidth=2, zeroline=False,
               tickfont=dict(family=FONT, size=22, color=M_BLUE, weight="bold"),
               ticklabelstandoff=6, tickmode="array", automargin=False)
layout["yaxis5"] = dict(domain=dom(5), anchor="x5", range=[0, 14], tickvals=[4, 6, 8, 10, 12], **rcommon)
layout["yaxis6"] = dict(domain=dom(6), anchor="x6", range=[2, 14], tickvals=[4, 6, 8, 10, 12], **rcommon)
layout["yaxis7"] = dict(overlaying="y5", anchor="x5", range=[0, 35], tickvals=[10, 20, 30], **lcommon)
layout["yaxis8"] = dict(overlaying="y6", anchor="x6", range=[0, 70], tickvals=[20, 40, 60], **lcommon)

layout["title"] = dict(text="Kansas (ksu1)", x=0.507, xref="paper", xanchor="center",
                       y=1 - 25 / 1232, yref="container", yanchor="middle",
                       font=dict(family="Open Sans", size=30, color="black", weight="bold"))

# ---------------- annotations ----------------
afont = dict(family=FONT, size=23, color="black", weight="bold")
arrow = dict(showarrow=True, text="", arrowhead=2, arrowsize=1.3, arrowwidth=2.5,
             arrowcolor="black", axref="pixel", ayref="pixel")
ann = [
    dict(x=19.97, y=105.2, xref="x2", yref="y2", ax=-121, ay=-25, **arrow),
    dict(x=22.40, y=102.3, xref="x2", yref="y2", ax=51, ay=-27, **arrow),
    dict(x=26.44, y=62.7, xref="x2", yref="y2", ax=53, ay=-66, **arrow),
    dict(x=21.29, y=3.99, xref="x3", yref="y3", ax=-95, ay=-31, **arrow),
    dict(x=25.91, y=3.07, xref="x3", yref="y3", ax=-95, ay=-30, **arrow),
    dict(x=21.68, y=23.3, xref="x4", yref="y4", ax=-94, ay=-31, **arrow),
    dict(x=26.03, y=20.6, xref="x4", yref="y4", ax=-95, ay=-30, **arrow),
    dict(x=22.38, y=21.7, xref="x5", yref="y7", ax=97, ay=133, **arrow),
    dict(x=23.23, y=45.8, xref="x6", yref="y8", ax=55, ay=-28, **arrow),
    dict(x=21.72, y=17.6, xref="x6", yref="y8", ax=-39, ay=15, **arrow),
    dict(x=16.57, y=129.3, xref="x2", yref="y2", text="SED", showarrow=False,
         xanchor="left", yanchor="middle", font=afont),
    dict(x=23.37, y=131.3, xref="x2", yref="y2", text="Trough", showarrow=False,
         xanchor="left", yanchor="middle", font=afont),
    dict(x=27.43, y=140.9, xref="x2", yref="y2", text="Substorm", showarrow=False,
         xanchor="left", yanchor="middle", font=afont),
    dict(x=24.26, y=55.9, xref="x6", yref="y8", text="Large Position Error", showarrow=False,
         xanchor="left", yanchor="middle", font=afont),
    dict(x=16.09, y=11.5, xref="x6", yref="y8", text="Change in # of Sat", showarrow=False,
         xanchor="left", yanchor="middle", font=afont),
    dict(x=0.4994, y=(1167 - 1219) / 1119, xref="paper", yref="paper",
         text="10-11 May 2024 [UT]", showarrow=False, xanchor="center", yanchor="middle",
         font=dict(family=FONT, size=25, color=AX, weight="bold")),
]
frag_font = dict(family=FONT, size=22, color=M_ORG, weight="bold")
for yref in ("y5", "y6"):
    for val in (12, 10):
        ann.append(dict(x=-0.0959, xref="paper", y=val, yref=yref, text=str(val),
                        showarrow=False, xanchor="right", yanchor="middle", font=frag_font))
layout["annotations"] = ann

fig.update_layout(**layout)
fig.write_html("out.html")
